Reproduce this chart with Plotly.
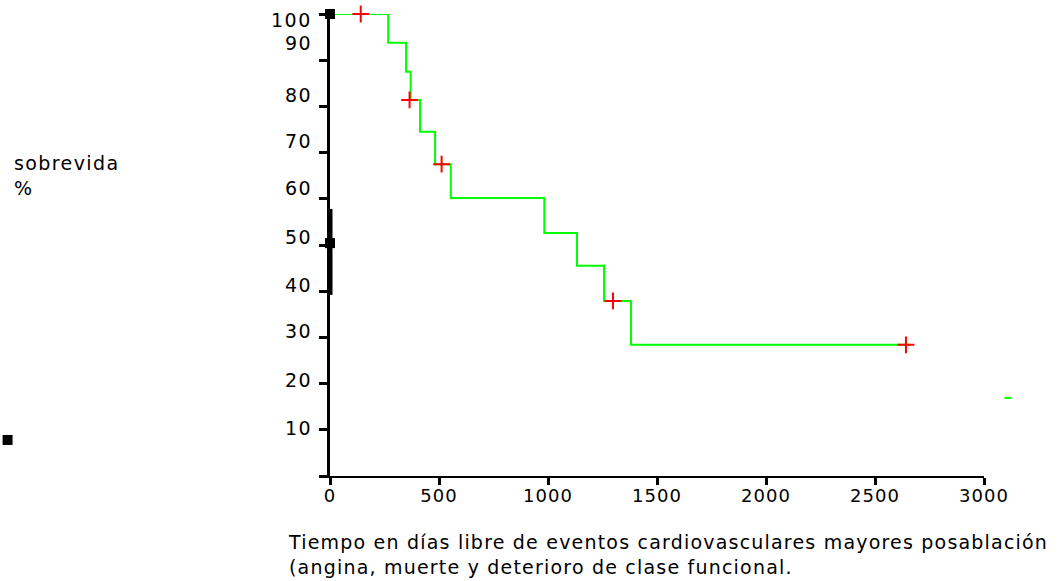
import plotly.graph_objects as go

# Kaplan-Meier step curve (days, survival %)
step_days = [0, 267, 349, 370, 413, 482, 554, 983, 1133, 1257, 1381, 2661]
step_surv = [100, 93.8, 87.5, 81.4, 74.5, 67.5, 60.2, 52.6, 45.5, 37.9, 28.4, 28.4]

# censored observations (red +)
cens_days = [141, 365, 512, 1298, 2642]
cens_surv = [100, 81.4, 67.5, 37.9, 28.4]

# black marks on the axis
axis_mark_days = [0, 0]
axis_mark_surv = [100, 50.4]
axis_bar_days = [0, 0]
axis_bar_surv = [39.2, 57.8]

# stray marks outside the plot area
stray_black_day = [-1479]
stray_black_surv = [7.8]
stray_green_day = [3110]
stray_green_surv = [16.9]

# axis ticks
y_tickvals = [0, 10, 20, 30, 40, 50, 60, 70, 80, 90, 100]
y_ticklabels = ["10", "20", "30", "40", "50", "60", "70", "80", "90", "100"]
y_label_pos = [10.4, 20.8, 31.4, 41.3, 51.7, 62.3, 72.5, 82.5, 93.7, 98.7]
x_tickvals = [0, 500, 1000, 1500, 2000, 2500, 3000]
x_ticklabels = ["0", "500", "1000", "1500", "2000", "2500", "3000"]

FONT = "DejaVu Sans"
W, H = 1058, 581
# plot area in pixels
PX0, PX1 = 330, 984
PY_TOP, PY_BOT = 14, 476
XR = [0, 3000]
YR = [0, 100]

# full-page helper axes with identical scale (for marks outside the plot area)
sx = (PX1 - PX0) / (XR[1] - XR[0])
sy = (PY_BOT - PY_TOP) / (YR[1] - YR[0])
x2_range = [XR[0] - PX0 / sx, XR[0] + (W - PX0) / sx]
y2_range = [YR[0] - (H - PY_BOT) / sy, YR[0] + PY_BOT / sy]


def spaced(txt, ls):
    return '<span style="letter-spacing:%spx">%s</span>' % (ls, txt)


fig = go.Figure()

fig.add_trace(go.Scatter(x=step_days, y=step_surv, mode="lines",
                         line=dict(color="#00ff00", width=2, shape="hv"),
                         cliponaxis=False, showlegend=False))
fig.add_trace(go.Scatter(x=cens_days, y=cens_surv, mode="markers",
                         marker=dict(symbol="cross-thin", size=12, color="red",
                                     line=dict(color="red", width=2)),
                         cliponaxis=False, showlegend=False))
fig.add_trace(go.Scatter(x=axis_bar_days, y=axis_bar_surv, mode="lines",
                         line=dict(color="black", width=5),
                         cliponaxis=False, showlegend=False))
fig.add_trace(go.Scatter(x=axis_mark_days, y=axis_mark_surv, mode="markers",
                         marker=dict(symbol="square", size=10, color="black"),
                         cliponaxis=False, showlegend=False))
fig.add_trace(go.Scatter(x=stray_black_day, y=stray_black_surv, mode="markers",
                         xaxis="x2", yaxis="y2",
                         marker=dict(symbol="square", size=10, color="black"),
                         cliponaxis=False, showlegend=False))
fig.add_trace(go.Scatter(x=stray_green_day, y=stray_green_surv, mode="markers",
                         xaxis="x2", yaxis="y2",
                         marker=dict(symbol="line-ew", size=5, color="#00ff00",
                                     line=dict(color="#00ff00", width=2)),
                         cliponaxis=False, showlegend=False))

annotations = []
for lab, pos in zip(y_ticklabels, y_label_pos):
    annotations.append(dict(x=0, y=pos, xref="x", yref="y", text=spaced(lab, 1.5),
                            showarrow=False, xanchor="right", yanchor="middle",
                            xshift=-16, font=dict(family=FONT, size=19, color="black")))

annotations.append(dict(x=12 / W, y=1 - 150 / H, xref="paper", yref="paper",
                        text=spaced("sobrevida", 1.4) + "<br>%", showarrow=False,
                        align="left", xanchor="left", yanchor="top",
                        font=dict(family=FONT, size=19, color="black")))
annotations.append(dict(x=286 / W, y=1 - 529 / H, xref="paper", yref="paper",
                        text=spaced("Tiempo en días libre de eventos cardiovasculares mayores posablación", 1.2)
                        + "<br>" + spaced("(angina, muerte y deterioro de clase funcional.", 1.2),
                        showarrow=False, align="left", xanchor="left", yanchor="top",
                        font=dict(family=FONT, size=19, color="black")))

fig.update_layout(
    width=W, height=H,
    margin=dict(l=0, r=0, t=0, b=0, autoexpand=False),
    paper_bgcolor="white", plot_bgcolor="rgba(0,0,0,0)",
    annotations=annotations,
    xaxis=dict(domain=[PX0 / W, PX1 / W], range=XR, anchor="y",
               tickvals=x_tickvals, ticktext=[spaced(t, 1) for t in x_ticklabels],
               showgrid=False, zeroline=False, showline=True, linecolor="black",
               linewidth=2, ticks="outside", ticklen=7, tickwidth=3, tickcolor="black",
               ticklabelstandoff=-5,
               tickfont=dict(family=FONT, size=18, color="black"), fixedrange=True,
               automargin=False),
    yaxis=dict(domain=[1 - PY_BOT / H, 1 - PY_TOP / H], range=YR, anchor="x",
               tickvals=y_tickvals, showticklabels=False,
               showgrid=False, zeroline=False, showline=True, linecolor="black",
               linewidth=2.5, ticks="outside", ticklen=8, tickwidth=3, tickcolor="black",
               fixedrange=True, automargin=False),
    xaxis2=dict(domain=[0, 1], range=x2_range, anchor="y2", visible=False,
                fixedrange=True, automargin=False),
    yaxis2=dict(domain=[0, 1], range=y2_range, anchor="x2", visible=False,
                fixedrange=True, automargin=False),
)

fig.write_html("out.html")
